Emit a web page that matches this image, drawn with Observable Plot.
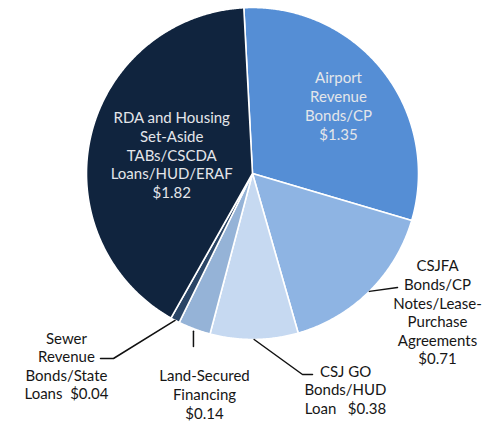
<!DOCTYPE html>
<html>
<head>
<meta charset="utf-8">
<script src="https://cdn.jsdelivr.net/npm/d3@7"></script>
<script src="https://cdn.jsdelivr.net/npm/@observablehq/plot@0.6"></script>
<style>
  html, body { margin: 0; padding: 0; background: #ffffff; }
  #chart svg { display: block; }
</style>
</head>
<body>
<div id="chart"></div>
<script>
// ---- data ----
const categories = [
  "Airport\nRevenue\nBonds/CP",
  "CSJFA\nBonds/CP\nNotes/Lease-\nPurchase\nAgreements",
  "CSJ GO\nBonds/HUD\nLoan",
  "Land-Secured\nFinancing",
  "Sewer\nRevenue\nBonds/State\nLoans",
  "RDA and Housing\nSet-Aside\nTABs/CSCDA\nLoans/HUD/ERAF"
];
const values = [1.35, 0.71, 0.38, 0.14, 0.04, 1.82];
// how the value joins the last label line ("\n" = new line, otherwise same line)
const valueJoin = ["\n", "\n", "\u00a0\u00a0 ", "\n", "\u00a0\u00a0", "\n"];
const colors = ["#558ed5", "#8eb4e3", "#c6d9f1", "#95b3d7", "#2a4566", "#10243e"];

// ---- layout (annotation placement, pixels relative to pie centre) ----
const W = 482, H = 422;
const CX = 252, CY = 173, R = 166;
const START_DEG = -3;
const inside = {0: 0.66, 5: 0.5};             // radius fraction for in-slice labels
const outside = {
  1: {text: [185, 138.5], leader: [[145, 114]]},
  2: {text: [93, 216], leader: [[50, 201], [60, 201]]},
  3: {text: [-48, 220.5], leader: [[null, 173]], gap: 2.5},
  4: {text: [-186, 192], leader: [[-139, 185], [-152, 185]]}
};

const rad = Math.PI / 180;
const arcs = d3.pie().sort(null).value(d => d)
  .startAngle(START_DEG * rad).endAngle((START_DEG + 360) * rad)(values);

const polar = (t, r) => [r * Math.sin(t), -r * Math.cos(t)];

// slice polygons
const slicePts = arcs.flatMap((a, i) => {
  const pts = [{i, x: 0, y: 0}];
  const n = Math.max(4, Math.ceil((a.endAngle - a.startAngle) / (0.4 * rad)));
  for (let k = 0; k <= n; k++) {
    const t = a.startAngle + (a.endAngle - a.startAngle) * k / n;
    const [x, y] = polar(t, R);
    pts.push({i, x, y});
  }
  pts.push({i, x: 0, y: 0});
  return pts;
});

const labelText = i => categories[i] + valueJoin[i] + "$" + values[i].toFixed(2);

const insideLabels = Object.entries(inside).map(([k, f]) => {
  const i = +k, a = arcs[i];
  const [x, y] = polar((a.startAngle + a.endAngle) / 2, R * f);
  return {x, y, text: labelText(i)};
});

const outsideLabels = Object.entries(outside).map(([k, o]) => ({
  x: o.text[0], y: o.text[1], text: labelText(+k)
}));

const leaderPts = Object.entries(outside).flatMap(([k, o]) => {
  const i = +k, a = arcs[i];
  const [sx, sy] = polar((a.startAngle + a.endAngle) / 2, R + (o.gap || 0));
  const pts = [{i, x: sx, y: sy}];
  for (const [lx, ly] of o.leader) pts.push({i, x: lx == null ? sx : lx, y: ly});
  return pts;
});

const chart = Plot.plot({
  width: W,
  height: H,
  margin: 0,
  x: {domain: [-CX, W - CX], range: [0, W], axis: null},
  y: {domain: [-CY, H - CY], range: [0, H], axis: null},
  color: {domain: d3.range(categories.length), range: colors},
  style: {background: "#ffffff", fontFamily: "Lato, 'Open Sans', sans-serif"},
  marks: [
    Plot.line(slicePts, {
      x: "x", y: "y", z: "i", fill: "i",
      stroke: "#ffffff", strokeWidth: 1.6, strokeLinejoin: "round", curve: "linear"
    }),
    Plot.line(leaderPts, {
      x: "x", y: "y", z: "i", stroke: "#111111", strokeWidth: 1.5, strokeLinejoin: "miter"
    }),
    Plot.text(insideLabels, {
      x: "x", y: "y", text: "text", fill: "#e4e6ea",
      fontSize: 15, lineHeight: 1.26, lineAnchor: "middle", textAnchor: "middle"
    }),
    Plot.text(outsideLabels, {
      x: "x", y: "y", text: "text", fill: "#161616",
      fontSize: 15, lineHeight: 1.24, lineAnchor: "middle", textAnchor: "middle"
    })
  ]
});

document.getElementById("chart").appendChild(chart);
</script>
</body>
</html>
